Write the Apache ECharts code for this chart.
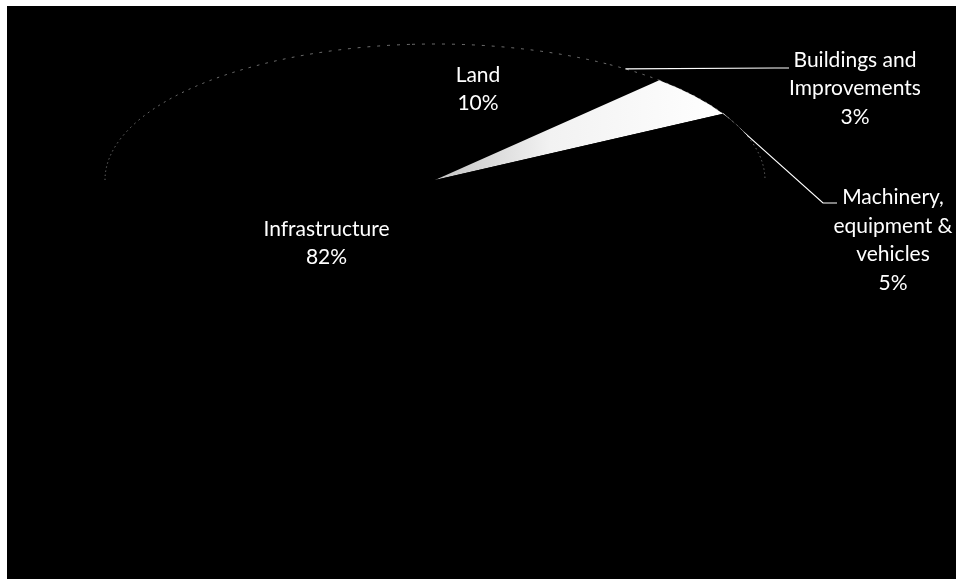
<!DOCTYPE html>
<html>
<head>
<meta charset="utf-8">
<script src="https://cdn.jsdelivr.net/npm/echarts@6/dist/echarts.min.js"></script>
<style>
  html, body { margin: 0; padding: 0; background: #ffffff; }
  #chart { width: 956px; height: 579px; }
</style>
</head>
<body>
<div id="chart"></div>
<script>
// Capital asset mix, share of total (%)
const categories = ['Land', 'Buildings and\nImprovements', 'Machinery,\nequipment &\nvehicles', 'Infrastructure'];
const shares = [10, 3, 5, 82];

// Tilted pie: the disc is drawn as an ellipse around its centre
const PIE = { cx: 435, cy: 180, rx: 330, ry: 136, firstSliceAngle: -4 };

const sliceFills = [
  '#000000',
  '#000000',
  { type: 'linear', x: 0, y: 0, x2: 1, y2: 0,
    colorStops: [{ offset: 0, color: '#c4c4c4' }, { offset: 0.4, color: '#f2f2f2' }, { offset: 1, color: '#ffffff' }] },
  '#000000'
];

// Label placement; outside labels get a leader line from the rim
const labelLayout = [
  { x: 478, y: 89 },
  { x: 855, y: 88.5, leaderEnd: [789, 68], anchor: 0.3 },
  { x: 893, y: 240, leaderEnd: [837, 203], anchor: 1.0 },
  { x: 326.5, y: 243 }
];

const total = shares.reduce((a, b) => a + b, 0);
const starts = [];
let acc = 0;
shares.forEach(v => { starts.push(PIE.firstSliceAngle + 360 * acc / total); acc += v; });

// angle measured clockwise from 12 o'clock, in degrees
const toRad = deg => (deg - 90) * Math.PI / 180;
const rimPoint = deg => [
  PIE.cx + PIE.rx * Math.sin(deg * Math.PI / 180),
  PIE.cy - PIE.ry * Math.cos(deg * Math.PI / 180)
];

// the far half of the rim is outlined
function backRimParts(a0, a1) {
  const parts = [];
  for (let k = -1; k <= 1; k++) {
    const lo = Math.max(a0, -90 + 360 * k);
    const hi = Math.min(a1, 90 + 360 * k);
    if (hi > lo) parts.push([lo, hi]);
  }
  return parts;
}

function renderItem(params, api) {
  const i = params.dataIndex;
  const value = api.value(0);
  const a0 = starts[i];
  const a1 = a0 + 360 * value / total;
  const sy = PIE.ry / PIE.rx;
  const children = [];

  children.push({
    type: 'sector',
    x: PIE.cx, y: PIE.cy, scaleX: 1, scaleY: sy,
    shape: { cx: 0, cy: 0, r0: 0, r: PIE.rx, startAngle: toRad(a0), endAngle: toRad(a1), clockwise: true },
    style: { fill: sliceFills[i] }
  });

  backRimParts(a0, a1).forEach(([lo, hi]) => {
    children.push({
      type: 'arc',
      x: PIE.cx, y: PIE.cy, scaleX: 1, scaleY: sy,
      shape: { cx: 0, cy: 0, r: PIE.rx, startAngle: toRad(lo), endAngle: toRad(hi), clockwise: true },
      style: { stroke: 'rgba(225,225,225,0.7)', lineWidth: 1, lineDash: [3, 7], fill: null, strokeNoScale: true }
    });
  });

  const lay = labelLayout[i];
  if (lay.leaderEnd) {
    const start = rimPoint(a0 + (a1 - a0) * lay.anchor);
    const end = lay.leaderEnd;
    children.push({
      type: 'polyline',
      shape: { points: [start, [end[0] - 14, end[1]], end] },
      style: { stroke: '#ffffff', lineWidth: 1.2, fill: null }
    });
  }

  children.push({
    type: 'text',
    x: lay.x, y: lay.y,
    style: {
      text: categories[i] + '\n' + value + '%',
      fill: '#ffffff',
      fontFamily: 'Lato',
      fontSize: 21,
      lineHeight: 28.5,
      align: 'center',
      verticalAlign: 'middle'
    }
  });

  return { type: 'group', children };
}

const chart = echarts.init(document.getElementById('chart'), null, { renderer: 'canvas' });
chart.setOption({
  animation: false,
  backgroundColor: '#ffffff',
  graphic: [{
    type: 'rect', z: -10,
    shape: { x: 7, y: 6, width: 949, height: 573 },
    style: { fill: '#000000' }
  }],
  series: [{
    type: 'custom',
    coordinateSystem: 'none',
    data: shares.map((v, i) => [v, i]),
    renderItem
  }]
});
</script>
</body>
</html>
